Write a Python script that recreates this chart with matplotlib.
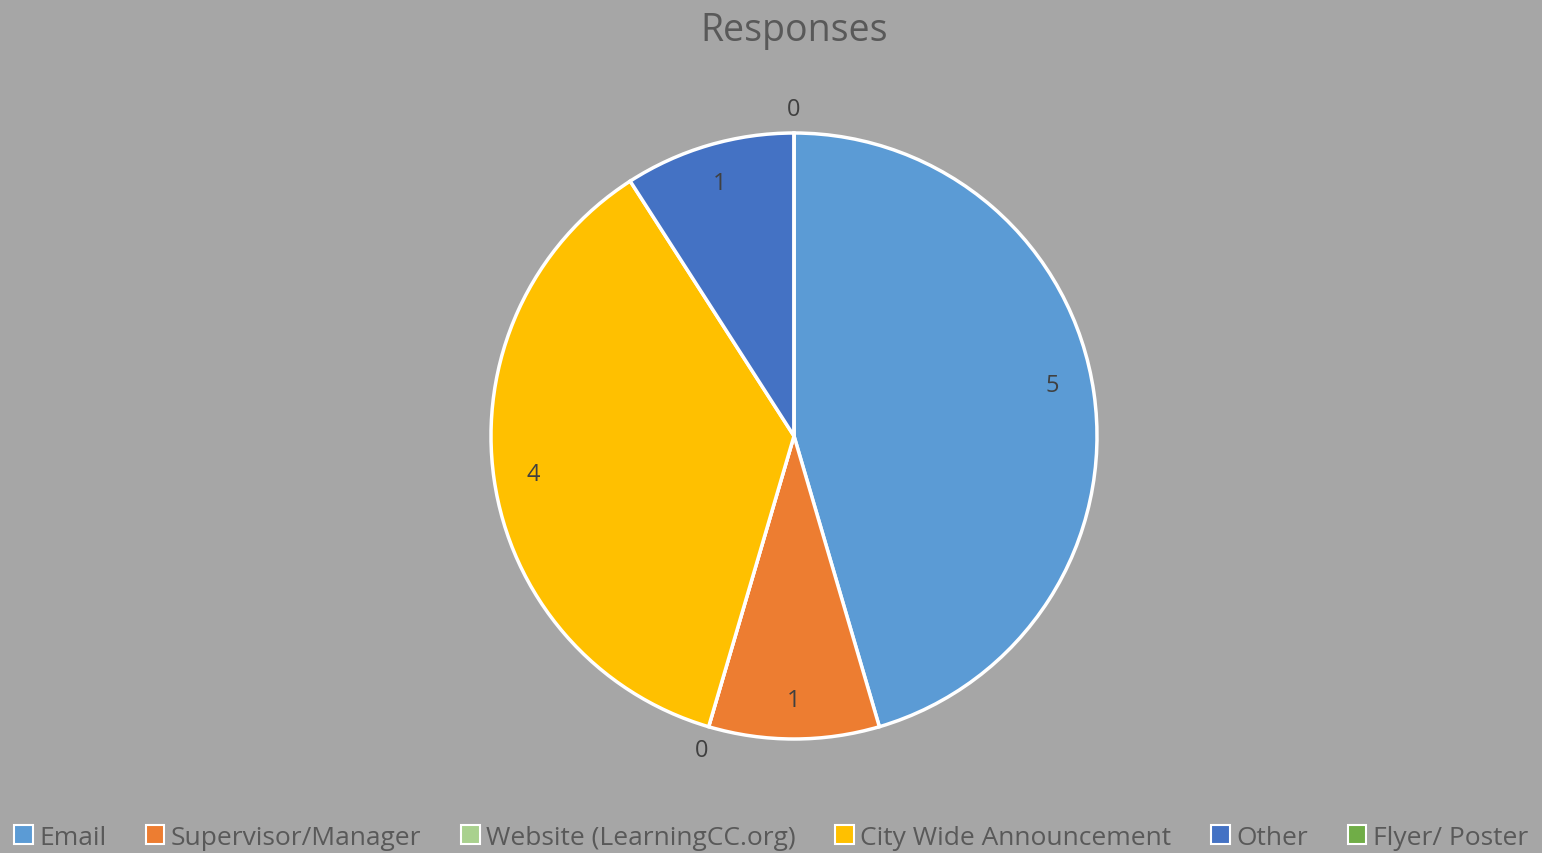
import matplotlib
matplotlib.use('Agg')
import matplotlib.pyplot as plt
from matplotlib.patches import Patch
import numpy as np

# Данные
categories = ['Email', 'Supervisor/Manager', 'Website (LearningCC.org)',
              'City Wide Announcement', 'Other', 'Flyer/ Poster']
responses = [5, 1, 0, 4, 1, 0]
colors = ['#5B9BD5', '#ED7D31', '#A9D18E', '#FFC000', '#4472C4', '#70AD47']

FONT = ['Open Sans', 'DejaVu Sans']
BG = '#A6A6A6'

fig = plt.figure(figsize=(15.42, 8.54), dpi=100, facecolor=BG)

# Оси подобраны так, чтобы центр круга был в (794, 437) px, радиус ~303 px
r = 1.05
w = 606 * r / 1542
h = 606 * r / 854
cx, cy = 794 / 1542, (854 - 437) / 854
ax = fig.add_axes([cx - w / 2, cy - h / 2, w, h])
ax.set_facecolor(BG)

wedges, _ = ax.pie(responses, colors=colors, startangle=90, counterclock=False,
                   wedgeprops=dict(edgecolor='white', linewidth=2.5))
ax.set_xlim(-r, r)
ax.set_ylim(-r, r)
ax.set_aspect('equal')
ax.axis('off')

# Подписи значений
for wdg, val in zip(wedges, responses):
    ang = np.deg2rad((wdg.theta1 + wdg.theta2) / 2)
    dist = 1.08 if val == 0 else 0.87
    if val == 5:
        ang += np.deg2rad(3)
    ax.text(dist * np.cos(ang), dist * np.sin(ang), str(val),
            ha='center', va='center', fontsize=17, color='#404040', family=FONT)

fig.text(cx, 0.964, 'Responses', ha='center', va='center', fontsize=27,
         color='#595959', family=FONT)

handles = [Patch(facecolor=c, edgecolor='white', linewidth=1.5) for c in colors]
fig.legend(handles, categories, loc='lower center', bbox_to_anchor=(0.5, -0.024),
           ncol=6, frameon=False, handlelength=0.7, handleheight=0.7,
           handletextpad=0.25, columnspacing=1.5,
           prop=dict(family=FONT, size=19), labelcolor='#595959')

fig.savefig('out.png', dpi=100, facecolor=BG)
